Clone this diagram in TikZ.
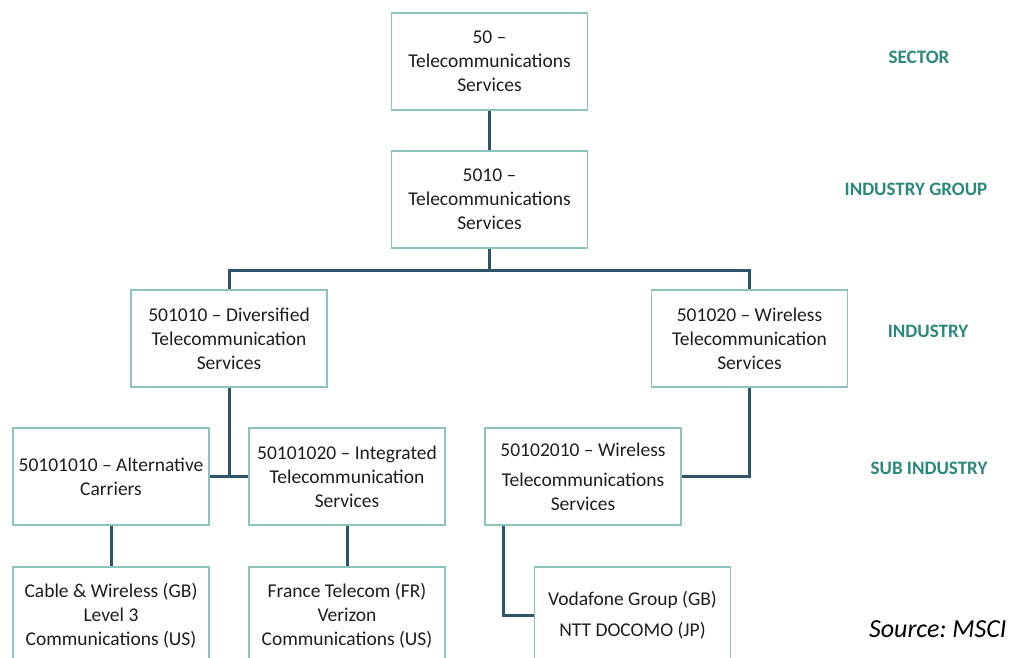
\documentclass[tikz,border=0pt]{standalone}
\usepackage{fontspec}
\setmainfont{Carlito}
\frenchspacing
\usetikzlibrary{positioning}
\definecolor{boxline}{HTML}{8CC3BD}
\definecolor{connline}{HTML}{2E5468}
\definecolor{leveltxt}{HTML}{2A8A7A}
\definecolor{boxtxt}{HTML}{1E1E1E}

\begin{document}
\begin{tikzpicture}
[x=1pt,y=-1pt,
 node/.style={shape=rectangle,draw=boxline,line width=1.3pt,fill=white,
   minimum width=196pt,minimum height=97pt,inner sep=0pt,align=center,
   text=boxtxt,font=\fontsize{19.5}{24}\selectfont},
 conn/.style={draw=connline,line width=3pt},
 level/.style={text=leveltxt,font=\fontsize{19}{22}\selectfont\bfseries}]

\useasboundingbox (0,0) rectangle (1013,658);

\draw (489.5,61.5) node (sector) [node] {50 --\\Telecommunications\\Services};
\draw (489.5,199.5) node (igroup) [node] {5010 --\\Telecommunications\\Services};

\draw (229,338.5) node (ind1) [node] {501010 -- Diversified\\Telecommunication\\Services};
\draw (749.5,338.5) node (ind2) [node] {501020 -- Wireless\\Telecommunication\\Services};

\draw (111,476.5) node (sub1) [node] {50101010 -- Alternative\\Carriers};
\draw (347,476.5) node (sub2) [node] {50101020 -- Integrated\\Telecommunication\\Services};
\draw (583,476.5) node (sub3) [node] {50102010 -- Wireless\\[6pt]Telecommunications\\Services};

\draw (111,615.5) node (co1) [node] {Cable \& Wireless (GB)\\Level 3\\Communications (US)};
\draw (347,615.5) node (co2) [node] {France Telecom (FR)\\Verizon\\Communications (US)};
\draw (632.5,615.5) node (co3) [node] {Vodafone Group (GB)\\[7pt]NTT DOCOMO (JP)};

% connectors
\draw [conn] (sector) -- (igroup);
\draw [conn] (igroup.south) -- ++(0,22) -| (ind1.north);
\draw [conn] (igroup.south) -- ++(0,22) -| (ind2.north);
\draw [conn] (ind1.south) -- (ind1.south |- sub1.east);
\draw [conn] (sub1.east) -- (sub2.west);
\draw [conn] (ind2.south) |- (sub3.east);
\draw [conn] (sub1) -- (co1);
\draw [conn] (sub2) -- (co2);
\draw [conn] (sub3.south west) ++(19,0) |- (co3.west);

% levels
\node (lsector) [level] at (919,57) {SECTOR};
\node (lgroup) [level] at (916,189) {INDUSTRY GROUP};
\node (lind) [level] at (928,331) {INDUSTRY};
\node (lsub) [level] at (929,468) {SUB INDUSTRY};

\node (source) [font=\fontsize{26}{28}\selectfont\itshape,anchor=east] at (1010,629) {Source: MSCI};
\end{tikzpicture}
\end{document}
